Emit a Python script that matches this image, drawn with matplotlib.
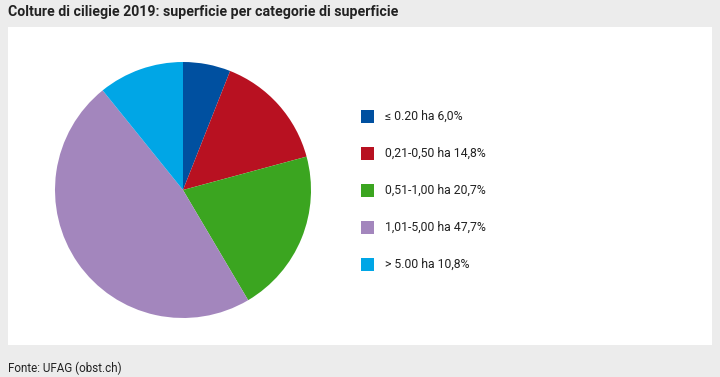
import matplotlib.pyplot as plt
from matplotlib.patches import Rectangle

# Daten
labels = ['≤ 0.20 ha 6,0%', '0,21-0,50 ha 14,8%', '0,51-1,00 ha 20,7%',
          '1,01-5,00 ha 47,7%', '> 5.00 ha 10,8%']
values = [6.0, 14.8, 20.7, 47.7, 10.8]
colors = ['#0050a0', '#b81121', '#3ba520', '#a386bd', '#00a6e6']

plt.rcParams['font.family'] = ['Roboto', 'DejaVu Sans']

W, H = 720, 377
fig = plt.figure(figsize=(W / 100, H / 100), dpi=100)
fig.patch.set_facecolor('#ececec')

# weisses Feld
fig.patches.append(Rectangle((8 / W, (H - 345) / H), 704 / W, 318 / H,
                             transform=fig.transFigure, facecolor='white',
                             edgecolor='none', zorder=-5))

fig.text(8 / W, 1 - 12 / H, 'Colture di ciliegie 2019: superficie per categorie di superficie',
         fontsize=10.2, fontweight='bold', va='center', ha='left', color='#222222')
fig.text(8 / W, 1 - 368 / H, 'Fonte: UFAG (obst.ch)', fontsize=8.4,
         va='center', ha='left', color='#222222')

# Kreisdiagramm
cx, cy, r = 183, 190, 128
ax = fig.add_axes([(cx - r) / W, (H - cy - r) / H, 2 * r / W, 2 * r / H])
ax.pie(values, colors=colors, startangle=90, counterclock=False, radius=1,
       wedgeprops=dict(linewidth=0))
ax.set_xlim(-1, 1)
ax.set_ylim(-1, 1)
ax.axis('off')

# Legende
for i, (lab, col) in enumerate(zip(labels, colors)):
    y = 116 + i * 37
    fig.patches.append(Rectangle((361 / W, (H - y - 6.5) / H), 13 / W, 13 / H,
                                 transform=fig.transFigure, facecolor=col,
                                 edgecolor='none'))
    fig.text(385 / W, 1 - y / H, lab, fontsize=8.8, va='center', ha='left',
             color='#222222')

fig.savefig('out.png', dpi=100, facecolor=fig.get_facecolor())
